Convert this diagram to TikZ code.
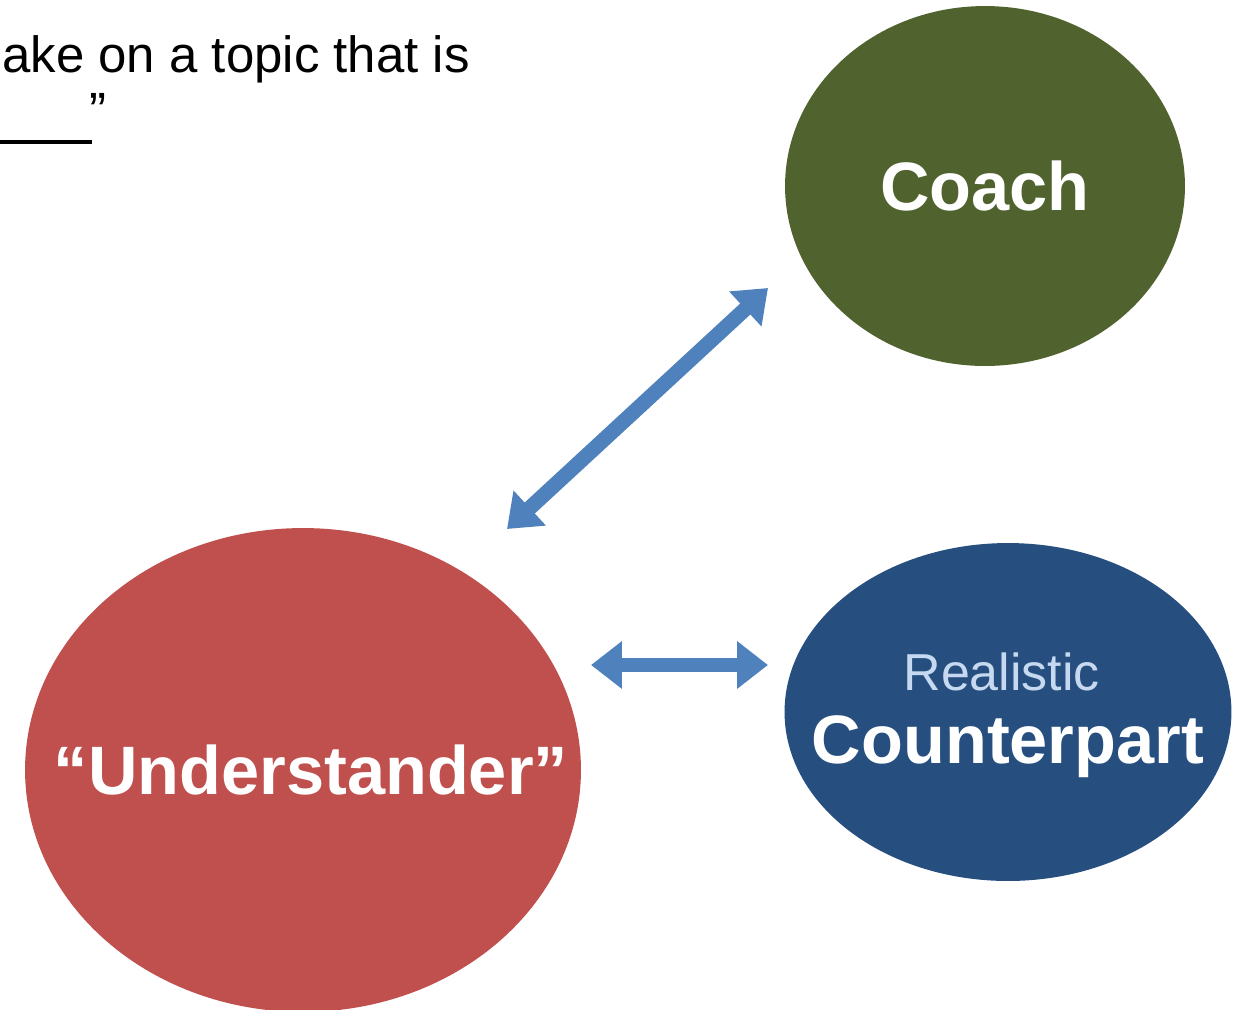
\documentclass[tikz,border=0pt]{standalone}
\usepackage{fontspec}
\setmainfont{Liberation Sans}
\usetikzlibrary{shapes.geometric,arrows.meta}
\definecolor{coachgreen}{RGB}{80,98,46}
\definecolor{underred}{RGB}{192,80,77}
\definecolor{partblue}{RGB}{38,79,127}
\definecolor{arrowblue}{RGB}{79,129,189}
\definecolor{paleblue}{RGB}{198,217,241}
\tikzset{
	bubble/.style={ellipse,inner sep=0pt,draw=none},
	bubbletext/.style={inner sep=0pt,text=white,
		font=\fontsize{39}{41.4}\selectfont\bfseries},
	dblarrow/.style={arrowblue,line width=8.5pt,
		{Triangle[length=17.6pt,width=26pt]}-{Triangle[length=17.6pt,width=26pt]}}
}
\begin{document}
\begin{tikzpicture}[x=0.02cm,y=-0.02cm]
			\useasboundingbox(0,0)rectangle(1251,1009);
			\node[anchor=base east,inner sep=0pt,font=\fontsize{29}{34}\selectfont](topic)at(470,72){ake on a topic that is};
			\draw[line width=2.2pt](0,142)coordinate(b1)--(92,142)coordinate(b2);
			\node[anchor=north west,inner sep=0pt,font=\fontsize{29}{34}\selectfont](quote)at(89,93){”};
			\node[bubble,fill=coachgreen,minimum width=8cm,minimum height=7.2cm](coach)at(985,186){};
			\node[bubble,fill=underred,minimum width=11.12cm,minimum height=9.68cm](under)at(303,770){};
			\node[bubble,fill=partblue,minimum width=8.94cm,minimum height=6.76cm](part)at(1008,712){};
			\node[bubbletext](coachtext)at(coach){Coach};
			\node[bubbletext](undertext)at([xshift=0.16cm]under.center){“Understander”};
			\node[bubbletext,align=center](parttext)at([yshift=-0.06cm]part.center)
				{{\fontsize{29.6}{41.4}\selectfont\mdseries\color{paleblue}Realistic\hspace*{0.25cm}}\\Counterpart};
			\coordinate(u1)at(507,529);
			\coordinate(c1)at(768,288);
			\coordinate(u2)at(591,665);
			\coordinate(p1)at(768,665);
			\draw[dblarrow](u1)--(c1);
			\draw[dblarrow](u2)--(p1);
		\end{tikzpicture}
\end{document}
